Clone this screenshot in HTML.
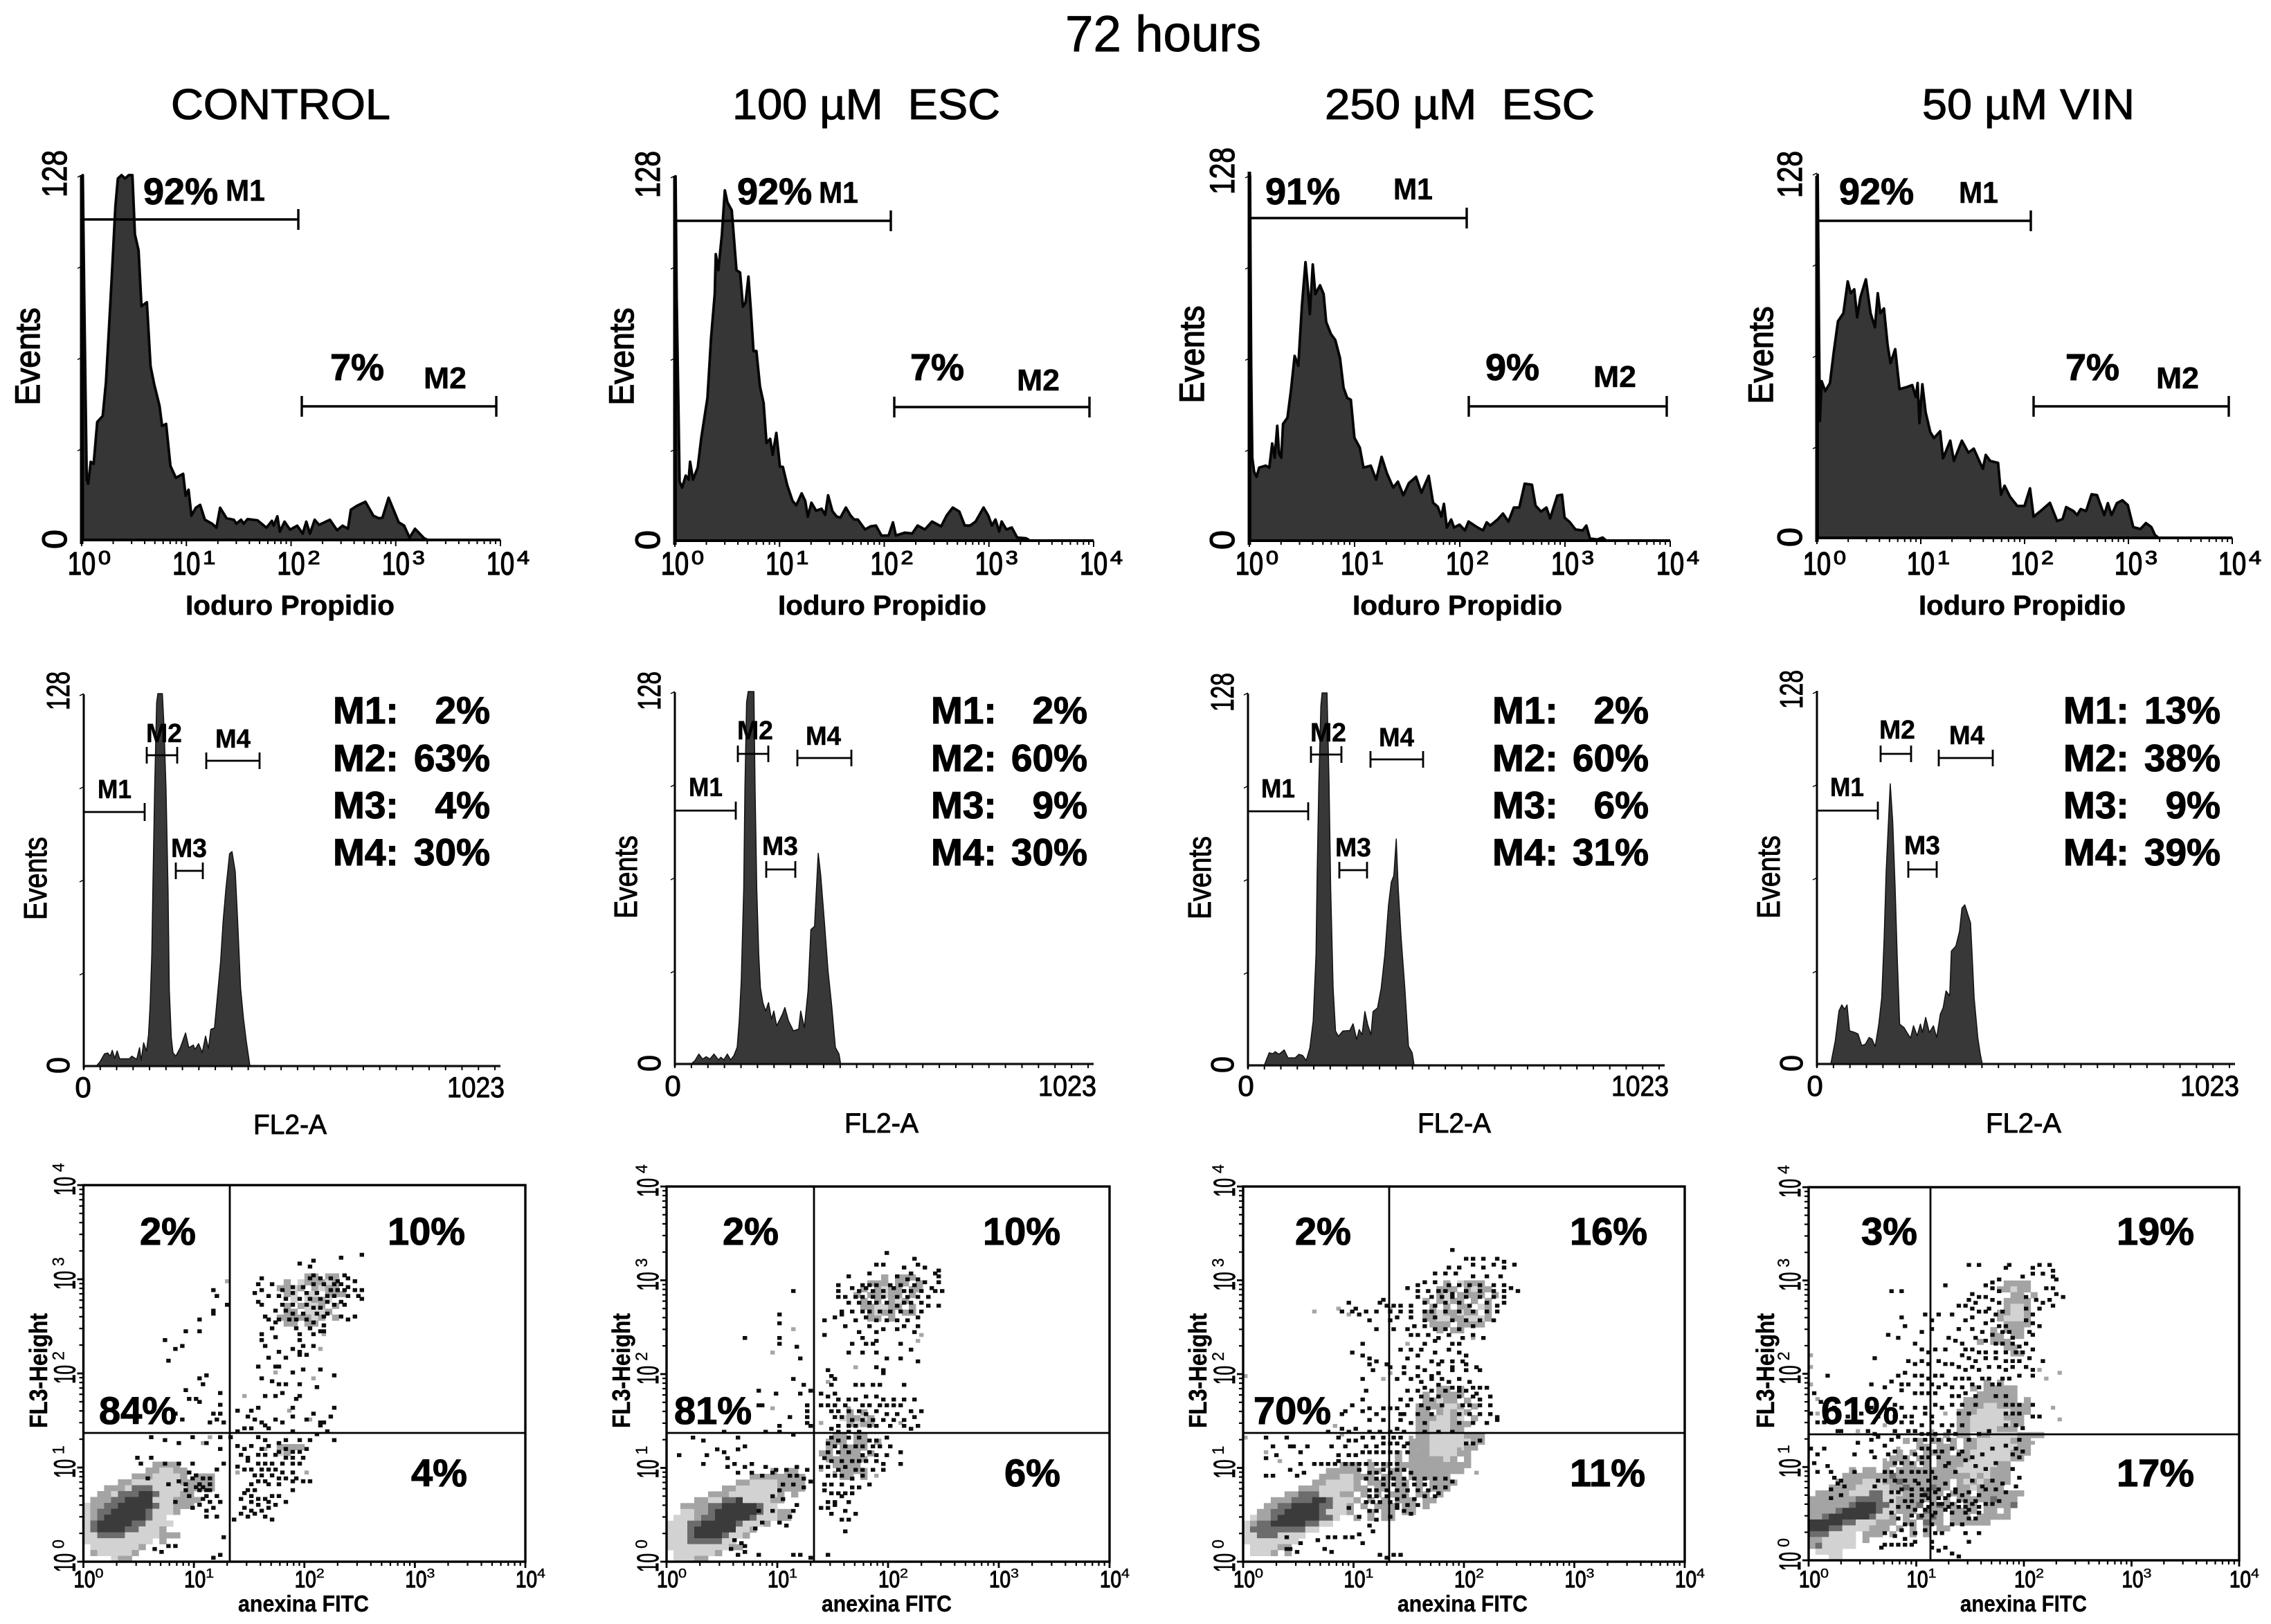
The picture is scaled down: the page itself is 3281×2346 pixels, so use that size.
<!DOCTYPE html>
<html lang="en">
<head>
<meta charset="utf-8">
<title>72 hours flow cytometry panels</title>
<style>
html,body{margin:0;padding:0;background:#fff}
svg{display:block;position:absolute;left:0;top:0}
text{font-family:"Liberation Sans",sans-serif;fill:#000}
.title{font-size:73px;stroke:#000;stroke-width:.9px}
.col{font-size:62px;stroke:#000;stroke-width:1.1px}
.pct{font-size:54px;font-weight:700;stroke:#000;stroke-width:1px}
.mk1{font-size:44px;font-weight:700;stroke:#000;stroke-width:.5px}
.mk2{font-size:38px;font-weight:700;stroke:#000;stroke-width:.5px}
.ev1{font-size:50px;stroke:#000;stroke-width:1.5px}
.ev2{font-size:46px;stroke:#000;stroke-width:1.1px}
.xl1{font-size:40px;font-weight:700;stroke:#000;stroke-width:.6px}
.xl2{font-size:40px;stroke:#000;stroke-width:.9px}
.stat{font-size:55px;font-weight:700;stroke:#000;stroke-width:1.1px}
.qp{font-size:56px;font-weight:700;stroke:#000;stroke-width:1.1px}
.al3{font-size:36px;font-weight:700;stroke:#000;stroke-width:.5px}
.xl3{font-size:33px;font-weight:700;stroke:#000;stroke-width:.4px}
.gate{fill:none;stroke:#000;stroke-width:3.4}
.gate2{fill:none;stroke:#000;stroke-width:2.8}
</style>
</head>
<body>
<svg id="fig" width="3281" height="2346" viewBox="0 0 3281 2346" xmlns="http://www.w3.org/2000/svg">
<rect width="3281" height="2346" fill="#fff"/>
<text class="title" x="1539" y="74" textLength="283" lengthAdjust="spacingAndGlyphs">72 hours</text>
<text class="col" x="247" y="172" textLength="317" lengthAdjust="spacingAndGlyphs">CONTROL</text>
<text class="col" x="1058" y="172" textLength="387" lengthAdjust="spacingAndGlyphs" xml:space="preserve">100 µM  ESC</text>
<text class="col" x="1914" y="172" textLength="390" lengthAdjust="spacingAndGlyphs" xml:space="preserve">250 µM  ESC</text>
<text class="col" x="2777" y="172" textLength="307" lengthAdjust="spacingAndGlyphs">50 µM VIN</text>

<g id="marks"></g>

<!-- row 1 gates and annotations -->
<g>
<path class="gate" d="M118 317H431M431 302V332"/>
<path class="gate" d="M436 587H717M436 572V602M717 572V602"/>
<text class="pct" x="207" y="295">92%</text>
<text class="mk1" x="326" y="290" textLength="57" lengthAdjust="spacingAndGlyphs">M1</text>
<text class="pct" x="477" y="549">7%</text>
<text class="mk1" x="612" y="561" textLength="62" lengthAdjust="spacingAndGlyphs">M2</text>
<text class="ev1" transform="translate(57,515) rotate(-90)" text-anchor="middle" textLength="141" lengthAdjust="spacingAndGlyphs">Events</text>
<text class="xl1" x="268" y="888" textLength="302" lengthAdjust="spacingAndGlyphs">Ioduro Propidio</text>

<path class="gate" d="M975 319H1287M1287 304V334"/>
<path class="gate" d="M1292 588H1574M1292 573V603M1574 573V603"/>
<text class="pct" x="1065" y="295">92%</text>
<text class="mk1" x="1183" y="293" textLength="57" lengthAdjust="spacingAndGlyphs">M1</text>
<text class="pct" x="1315" y="549">7%</text>
<text class="mk1" x="1469" y="564" textLength="62" lengthAdjust="spacingAndGlyphs">M2</text>
<text class="ev1" transform="translate(915,515) rotate(-90)" text-anchor="middle" textLength="141" lengthAdjust="spacingAndGlyphs">Events</text>
<text class="xl1" x="1124" y="888" textLength="301" lengthAdjust="spacingAndGlyphs">Ioduro Propidio</text>

<path class="gate" d="M1805 315H2119M2119 300V330"/>
<path class="gate" d="M2122 587H2408M2122 572V602M2408 572V602"/>
<text class="pct" x="1828" y="295">91%</text>
<text class="mk1" x="2013" y="288" textLength="57" lengthAdjust="spacingAndGlyphs">M1</text>
<text class="pct" x="2146" y="549">9%</text>
<text class="mk1" x="2302" y="559" textLength="62" lengthAdjust="spacingAndGlyphs">M2</text>
<text class="ev1" transform="translate(1739,512) rotate(-90)" text-anchor="middle" textLength="141" lengthAdjust="spacingAndGlyphs">Events</text>
<text class="xl1" x="1954" y="888" textLength="303" lengthAdjust="spacingAndGlyphs">Ioduro Propidio</text>

<path class="gate" d="M2625 319H2934M2934 304V334"/>
<path class="gate" d="M2938 587H3220M2938 572V602M3220 572V602"/>
<text class="pct" x="2657" y="295">92%</text>
<text class="mk1" x="2830" y="293" textLength="57" lengthAdjust="spacingAndGlyphs">M1</text>
<text class="pct" x="2984" y="549">7%</text>
<text class="mk1" x="3115" y="561" textLength="62" lengthAdjust="spacingAndGlyphs">M2</text>
<text class="ev1" transform="translate(2561,513) rotate(-90)" text-anchor="middle" textLength="141" lengthAdjust="spacingAndGlyphs">Events</text>
<text class="xl1" x="2772" y="888" textLength="299" lengthAdjust="spacingAndGlyphs">Ioduro Propidio</text>
</g>

<!-- row 2 gates and annotations -->
<g>
<path class="gate2" d="M121 1173H209M209 1160V1186"/>
<path class="gate2" d="M212 1091H256M212 1079V1103M256 1079V1103"/>
<path class="gate2" d="M254 1258H293M254 1246V1270M293 1246V1270"/>
<path class="gate2" d="M298 1099H375M298 1087V1111M375 1087V1111"/>
<text class="mk2" x="141" y="1153" textLength="49" lengthAdjust="spacingAndGlyphs">M1</text>
<text class="mk2" x="211" y="1072" textLength="52" lengthAdjust="spacingAndGlyphs">M2</text>
<text class="mk2" x="247" y="1238" textLength="52" lengthAdjust="spacingAndGlyphs">M3</text>
<text class="mk2" x="311" y="1080" textLength="51" lengthAdjust="spacingAndGlyphs">M4</text>
<text class="stat" x="481" y="1045">M1:</text><text class="stat" x="708" y="1045" text-anchor="end">2%</text>
<text class="stat" x="481" y="1114">M2:</text><text class="stat" x="708" y="1114" text-anchor="end">63%</text>
<text class="stat" x="481" y="1182">M3:</text><text class="stat" x="708" y="1182" text-anchor="end">4%</text>
<text class="stat" x="481" y="1250">M4:</text><text class="stat" x="708" y="1250" text-anchor="end">30%</text>
<text class="ev2" transform="translate(67,1269) rotate(-90)" text-anchor="middle" textLength="120" lengthAdjust="spacingAndGlyphs">Events</text>
<text class="xl2" x="366" y="1638" textLength="106" lengthAdjust="spacingAndGlyphs">FL2-A</text>

<path class="gate2" d="M975 1171H1063M1063 1158V1184"/>
<path class="gate2" d="M1066 1089H1110M1066 1077V1101M1110 1077V1101"/>
<path class="gate2" d="M1107 1256H1149M1107 1244V1268M1149 1244V1268"/>
<path class="gate2" d="M1152 1095H1230M1152 1083V1107M1230 1083V1107"/>
<text class="mk2" x="995" y="1150" textLength="49" lengthAdjust="spacingAndGlyphs">M1</text>
<text class="mk2" x="1065" y="1068" textLength="52" lengthAdjust="spacingAndGlyphs">M2</text>
<text class="mk2" x="1101" y="1235" textLength="52" lengthAdjust="spacingAndGlyphs">M3</text>
<text class="mk2" x="1164" y="1076" textLength="51" lengthAdjust="spacingAndGlyphs">M4</text>
<text class="stat" x="1345" y="1045">M1:</text><text class="stat" x="1571" y="1045" text-anchor="end">2%</text>
<text class="stat" x="1345" y="1114">M2:</text><text class="stat" x="1571" y="1114" text-anchor="end">60%</text>
<text class="stat" x="1345" y="1182">M3:</text><text class="stat" x="1571" y="1182" text-anchor="end">9%</text>
<text class="stat" x="1345" y="1250">M4:</text><text class="stat" x="1571" y="1250" text-anchor="end">30%</text>
<text class="ev2" transform="translate(920,1267) rotate(-90)" text-anchor="middle" textLength="120" lengthAdjust="spacingAndGlyphs">Events</text>
<text class="xl2" x="1220" y="1636" textLength="107" lengthAdjust="spacingAndGlyphs">FL2-A</text>

<path class="gate2" d="M1803 1172H1890M1890 1159V1185"/>
<path class="gate2" d="M1894 1090H1938M1894 1078V1102M1938 1078V1102"/>
<path class="gate2" d="M1935 1257H1975M1935 1245V1269M1975 1245V1269"/>
<path class="gate2" d="M1980 1097H2056M1980 1085V1109M2056 1085V1109"/>
<text class="mk2" x="1822" y="1152" textLength="49" lengthAdjust="spacingAndGlyphs">M1</text>
<text class="mk2" x="1893" y="1071" textLength="52" lengthAdjust="spacingAndGlyphs">M2</text>
<text class="mk2" x="1929" y="1237" textLength="52" lengthAdjust="spacingAndGlyphs">M3</text>
<text class="mk2" x="1992" y="1078" textLength="51" lengthAdjust="spacingAndGlyphs">M4</text>
<text class="stat" x="2156" y="1045">M1:</text><text class="stat" x="2382" y="1045" text-anchor="end">2%</text>
<text class="stat" x="2156" y="1114">M2:</text><text class="stat" x="2382" y="1114" text-anchor="end">60%</text>
<text class="stat" x="2156" y="1182">M3:</text><text class="stat" x="2382" y="1182" text-anchor="end">6%</text>
<text class="stat" x="2156" y="1250">M4:</text><text class="stat" x="2382" y="1250" text-anchor="end">31%</text>
<text class="ev2" transform="translate(1749,1268) rotate(-90)" text-anchor="middle" textLength="120" lengthAdjust="spacingAndGlyphs">Events</text>
<text class="xl2" x="2048" y="1636" textLength="106" lengthAdjust="spacingAndGlyphs">FL2-A</text>

<path class="gate2" d="M2625 1171H2713M2713 1158V1184"/>
<path class="gate2" d="M2717 1089H2761M2717 1077V1101M2761 1077V1101"/>
<path class="gate2" d="M2757 1256H2798M2757 1244V1268M2798 1244V1268"/>
<path class="gate2" d="M2801 1095H2879M2801 1083V1107M2879 1083V1107"/>
<text class="mk2" x="2644" y="1150" textLength="49" lengthAdjust="spacingAndGlyphs">M1</text>
<text class="mk2" x="2715" y="1067" textLength="52" lengthAdjust="spacingAndGlyphs">M2</text>
<text class="mk2" x="2751" y="1234" textLength="52" lengthAdjust="spacingAndGlyphs">M3</text>
<text class="mk2" x="2816" y="1075" textLength="51" lengthAdjust="spacingAndGlyphs">M4</text>
<text class="stat" x="2981" y="1045">M1:</text><text class="stat" x="3208" y="1045" text-anchor="end">13%</text>
<text class="stat" x="2981" y="1114">M2:</text><text class="stat" x="3208" y="1114" text-anchor="end">38%</text>
<text class="stat" x="2981" y="1182">M3:</text><text class="stat" x="3208" y="1182" text-anchor="end">9%</text>
<text class="stat" x="2981" y="1250">M4:</text><text class="stat" x="3208" y="1250" text-anchor="end">39%</text>
<text class="ev2" transform="translate(2571,1267) rotate(-90)" text-anchor="middle" textLength="120" lengthAdjust="spacingAndGlyphs">Events</text>
<text class="xl2" x="2869" y="1636" textLength="109" lengthAdjust="spacingAndGlyphs">FL2-A</text>
</g>

<!-- row 3 quadrant gates and annotations -->
<g>
<path class="gate2" d="M332 1712V2256M120.5 2070H759"/>
<text class="qp" x="202" y="1798">2%</text>
<text class="qp" x="560" y="1798">10%</text>
<text class="qp" x="143" y="2057">84%</text>
<text class="qp" x="594" y="2147">4%</text>
<text class="al3" transform="translate(68,1980) rotate(-90)" text-anchor="middle" textLength="166" lengthAdjust="spacingAndGlyphs">FL3-Height</text>
<text class="xl3" x="344" y="2328" textLength="189" lengthAdjust="spacingAndGlyphs">anexina FITC</text>

<path class="gate2" d="M1176 1714V2256M963 2070H1603"/>
<text class="qp" x="1044" y="1798">2%</text>
<text class="qp" x="1420" y="1798">10%</text>
<text class="qp" x="974" y="2057">81%</text>
<text class="qp" x="1451" y="2147">6%</text>
<text class="al3" transform="translate(910,1980) rotate(-90)" text-anchor="middle" textLength="166" lengthAdjust="spacingAndGlyphs">FL3-Height</text>
<text class="xl3" x="1187" y="2328" textLength="188" lengthAdjust="spacingAndGlyphs">anexina FITC</text>

<path class="gate2" d="M2007 1714V2256M1796 2070H2434"/>
<text class="qp" x="1871" y="1798">2%</text>
<text class="qp" x="2268" y="1798">16%</text>
<text class="qp" x="1811" y="2057">70%</text>
<text class="qp" x="2268" y="2147">11%</text>
<text class="al3" transform="translate(1743,1980) rotate(-90)" text-anchor="middle" textLength="166" lengthAdjust="spacingAndGlyphs">FL3-Height</text>
<text class="xl3" x="2019" y="2328" textLength="188" lengthAdjust="spacingAndGlyphs">anexina FITC</text>

<path class="gate2" d="M2789 1715V2254M2613 2072H3235"/>
<text class="qp" x="2689" y="1798">3%</text>
<text class="qp" x="3058" y="1798">19%</text>
<text class="qp" x="2631" y="2057">61%</text>
<text class="qp" x="3058" y="2147">17%</text>
<text class="al3" transform="translate(2563,1980) rotate(-90)" text-anchor="middle" textLength="166" lengthAdjust="spacingAndGlyphs">FL3-Height</text>
<text class="xl3" x="2832" y="2328" textLength="183" lengthAdjust="spacingAndGlyphs">anexina FITC</text>
</g>
</svg>

<script>
// ---------- propidium iodide histograms: channel, events pairs (288 channels per decade, 0-128 events)
const piControl=[3,128,7,85,11,47,14,21.1,18,19.7,25,27.4,33,26.7,43,41.4,58,43.5,67,55.4,75,73.6,83,91.8,93,117,100,126.8,110,128,120,126.8,130,128,140,128,147,107.2,157,101.6,165,82,180,83.4,190,61,200,54.7,215,47,222,40,233,40.7,245,26,260,21.8,280,23.2,287,15.5,295,17.6,303,8.5,315,11.3,327,12.3,340,7.1,360,5.7,372,4.3,382,11.3,400,7.6,420,7.1,427,5.7,440,7.1,447,5.7,458,7.3,485,6.9,510,4.3,525,6.7,530,5,540,8.3,547,2.9,560,6.4,575,3.6,595,5,610,2.2,620,6.4,630,2.2,643,7.1,655,5.3,685,7.1,705,3.4,720,5,735,3.9,743,10.6,760,12,783,13.4,805,8.5,820,7.6,830,7.8,847,14.8,875,6.2,890,5,905,.8,920,3.9,945,.6,955,0];
const piEsc100=[2,127.8,5,85.1,10,45.9,13,20.7,20,18.6,30,22.8,38,21.4,42,27.7,50,21.4,63,25.6,73,36.1,90,50.1,100,71.1,110,86.5,113,100.5,120,94.9,130,107.5,138,122.9,145,118.7,157,115.9,170,94.9,180,94.1,188,82.1,195,83.5,203,92.6,210,80.5,217,66.5,225,66.5,235,54,245,48.3,253,34.3,263,35.7,270,30.1,280,37.8,290,26,298,25.9,310,19.5,325,13.9,335,12.4,350,16.6,360,13.9,367,8.4,377,13.3,390,10.5,405,11.2,415,9,423,15.9,435,10.3,447,8.4,457,8.1,472,11.6,485,8.8,495,7.4,505,7.4,525,3.9,540,5,555,5.3,570,1.8,590,1.8,602,6.4,610,1.8,635,2.8,655,2.5,670,5.3,690,3.9,710,6.7,735,5,750,8.8,767,11.6,785,10.2,800,5.3,815,5.3,830,6.7,852,11.6,865,8.8,875,5.3,885,7.4,895,3.2,902,6.7,915,3.9,930,4.6,945,1.1,970,.8,980,0];
const piEsc250=[2,128,3,97.5,5,61.1,8,29.1,13,24.2,20,22.4,27,25.6,45,26.3,55,25.6,63,34.1,70,29.1,77,40.3,82,30.5,88,29.1,93,41,105,43.1,115,52.9,125,64.8,135,61.3,145,82.3,155,97.7,161,89.3,167,79.5,175,96.9,182,86.5,195,89.6,205,86.5,212,76.7,225,72.5,237,70.4,250,64.1,260,53.6,270,50.1,280,49.4,290,36.1,305,32.6,315,25.6,335,26.3,350,21.4,365,29.4,380,23.5,397,18.6,410,20.7,425,15.9,440,20.1,460,22.4,475,16.8,495,22.7,507,13.3,520,11.9,530,8.4,537,12.9,545,4.6,557,7.4,565,4.6,580,5.6,595,3.6,605,6.7,630,4.6,645,3.6,655,6.4,665,5.3,685,7.4,700,9.5,715,6.7,730,11.6,745,11.6,760,20,780,19.6,790,12.3,805,10.2,820,11.6,830,7.8,850,15.8,863,16.1,870,8.1,885,6.4,900,3.9,920,3.6,930,5.3,940,.8,960,.4,975,1.1,985,0];
const piVin50=[2,127.4,4,98.3,6,69,8,41,13,55,23,51.5,36,54.3,46,64.8,58,76,73,78.8,85,90,93,85.8,103,87.2,111,77.4,120,84.4,135,90.7,148,78.8,160,73.9,168,85.8,175,78.8,185,80.5,195,67.6,203,61.3,216,66.2,228,52.2,248,52.9,263,53.6,273,49.4,278,54.3,283,40.3,291,53.9,300,44.1,313,37.1,323,35,340,37.4,348,27.9,368,34.1,378,27,400,34.1,418,29.9,433,31.3,448,27,458,24.2,466,29.1,478,27,500,26.3,508,15.1,518,18.3,533,14.4,553,11.2,573,11.2,588,17.4,598,7.4,618,9.5,643,12.3,663,5.9,678,6.6,688,10.8,708,9.4,718,8,728,10.1,743,9.4,758,15.3,773,15,793,8,803,12.2,813,8,828,12.2,843,13.2,858,11.5,873,3.8,893,3.1,908,5.2,923,3.8,933,1,943,0];

// ---------- DNA content histograms: channel (0-1023), events pairs
const dnaControl=[31,0,40,1.5,51,4.2,59,4.5,65,3.4,70,5.4,76,2.7,82,5.2,88,2.5,112,2.5,118,3.4,130,2.3,137,6.3,141,1.9,147,8,154,5.1,159,10.8,163,21,167,38.2,170,63,174,95,179,124.9,182,128,193,128,197,117,202,95,207,60.4,210,26.2,215,9.7,219,4.6,226,3.4,237,6.3,250,11.4,258,6.3,269,7.2,273,5.7,282,7.7,291,4.6,299,10.3,306,6,312,12.6,321,13.1,327,22.2,336,35.9,342,49.6,349,61,358,73,364,73.7,372,66.8,378,49.6,385,26.8,392,16.5,399,8.6,408,0];
const dnaEsc100=[40,0,49,1.1,59,3.4,68,1.7,77,2.5,86,1.7,96,3.4,107,1.4,113,2.3,120,1.4,129,3.4,137,1.4,145,2.9,153,5.7,158,14.8,163,28.5,169,60.4,172,94.6,176,124.3,180,128,194,128,197,94.6,201,60.4,206,37.6,210,26.2,216,21.1,223,18.2,230,21.1,237,15.4,243,18.2,250,13.1,264,17.1,270,19.4,279,14.8,291,11.4,304,12,309,18.2,318,12.5,327,25.1,334,46.2,343,47.3,352,72.4,358,65,367,49,376,32,385,20,394,5.7,403,3.4,407,0];
const dnaEsc250=[40,0,52,4.3,61,4,67,4.7,76,3.8,89,5.3,98,2.6,116,2.6,125,3.8,134,3.4,143,1.7,152,6,160,15.2,167,38,170,66.5,174,97.3,179,123.5,182,128,194,128,199,97.3,203,60.8,209,26.6,215,11.8,222,10,233,11.8,250,12,258,14.3,267,8.9,273,12.3,280,10.5,287,18.5,294,14,302,10.5,307,18.5,318,19.7,327,26.5,336,38,345,55,352,63,358,65.2,364,77.8,369,60.8,376,43.7,385,26.6,394,6.6,403,4.3,408,0];
const dnaVin50=[34,0,45,8,54,18.2,61,20.3,68,18.8,74,20.3,80,11.4,92,10.9,101,10.3,110,6.3,119,6.8,128,9.1,135,8.6,143,6,152,13.7,159,22.8,165,43.3,170,66.1,177,87.7,180,96.3,186,83.2,192,60.4,197,37.6,203,13.7,214,12.5,221,10.8,230,8.9,237,13.1,246,9.7,254,13.7,259,10.8,267,16,276,10.8,286,13.1,294,9.1,303,17.1,310,19.4,317,25.1,326,23.4,330,38.8,341,40.5,350,45.6,356,53.6,363,54.7,377,48.5,381,37.6,386,22.8,395,9.1,401,3.4,406,0];

// ---------- annexin / FL3 dot plots: density bins [row, first column, levels] on a 64 x 64 grid
const densityControl=[[48,32,"22.22"],[47,29,"2.122212"],[46,28,"2212.2122"],[45,29,"21.11.222"],[44,30,"1.1221"],[43,29,"2.2112.2"],[42,29,"22.1112"],[41,28,"2222212.2"],[40,29,"22.22"],[19,28,"2222"],[18,28,"12"],
[16,10,"2222"],[15,9,"221122"],[14,7,"22211112.222"],[13,5,"22111111122222"],[12,3,"2221333111112222"],[11,2,"22133344311122"],[10,1,"2223344441112222"],[9,0,"1223344444311222"],[8,0,"12334444431112"],[7,0,"123444444311"],[6,0,"1344444331111"],[5,0,"134444331112"],[4,0,"11333311111222"],[3,0,"1111111111.2"],[2,1,"11111112"],[1,1,"2111112"],[0,4,"122"]];
const densityEsc100=[[48,31,"2.222"],[47,29,"222.22.2"],[46,28,"2.2122.22"],[45,27,"2.22122.2"],[44,28,"2.2.212"],[43,28,"221122.2"],[42,29,"2122.22"],[41,29,"22.2"],[25,26,"2.2"],[24,25,"12212"],[23,26,"2122"],[21,24,"22.22"],[20,23,"222.22.2"],[19,23,"2.2222"],[18,22,"22.222.2"],[17,23,"222222"],[16,24,"2222"],[15,25,"2222"],[14,25,"22.2"],
[15,15,"2.22"],[14,12,"22222222"],[13,10,"2211112222"],[12,8,"221111112222"],[11,6,"22211111112.2"],[10,4,"2211334111122"],[9,2,"22223344444311"],[8,2,"1122344444431122"],[7,1,"11123344444311122"],[6,0,"111334444431112"],[5,0,"1113444444112"],[4,0,"111344443112"],[3,0,"1113333311"],[2,0,"11111111122"],[1,1,"1111112"],[0,1,"11122"]];
const densityEsc250=[[47,29,"2.1222"],[46,28,"222.2122"],[45,28,"21.2222.2"],[44,26,"2.2122.2.2"],[43,27,"2.2.22.12"],[42,26,"22122122.2"],[41,26,"2211221112"],[40,27,"222.2222"],[39,28,"2.22"],
[29,28,"22.2"],[28,26,"2.2222"],[27,26,"22122.2"],[26,25,"2222112.2"],[25,25,"22.21212"],[24,25,"2221121.2"],[23,25,"22111222"],[22,25,"2211122"],[21,25,"2211111222"],[20,24,"22211111122"],[19,24,"2221111122"],[18,22,"2.222111122"],[17,22,"2.2222212.2"],[16,14,"222.2.2.22222222222"],[15,12,"22222.22.22.22222222"],[14,11,"22211222.222.222222"],[13,10,"2211112.222.22.2.2222"],[12,8,"2221111122.22.22.2.222"],[11,6,"2233311122.2.2.222.22.2"],[10,4,"2223334431112.2.2.222.22"],[9,3,"2233444433112.2.222.22.2"],[8,2,"22334444431112..2.22.22"],[7,1,"1223444444331..2.2.22"],[6,0,"1233444443311"],[5,0,"13333333311"],[4,0,"113331111"],[3,0,"11111111"],[2,1,"111122"],[1,1,"1112.2"]];
const densityVin50=[[47,29,"2222"],[46,28,"22122"],[45,30,"22.2"],[44,29,"2222"],[43,29,"2112"],[42,28,"22112"],[41,28,"21112"],[40,29,"2222"],[39,27,"2.222"],[38,27,"22.22"],[37,25,"2.222"],[36,29,"22"],[35,30,"22"],
[30,26,"2.2"],[29,24,"2.22222"],[28,25,"222222"],[27,23,"22222222.2"],[26,23,"2221122222"],[25,22,"22211111222"],[24,22,"2211111222"],[23,22,"2211111122"],[22,22,"221111222"],
[21,18,"2.2.22.2211112222"],[20,14,"2.2.22.2.2211111222"],[19,16,"22.222.2211111122"],[18,13,"2.2.2222.22111111222"],[17,12,"222.22.2222211111122"],[16,11,"22.22.2.22221111122"],[15,6,"2.22.2.22222222211111222"],[14,5,"2222222322222222222121222"],[13,4,"22221112232222222.21212222"],[12,3,"222211111223222322.2212222"],[11,1,"2222211133111222322.222.2222222"],[10,0,"2222222333311222222.2.222223222"],[9,0,"22222234443312223.2322.22.22223"],[8,0,"2222344444311222.322.2222.22.2"],[7,0,"2234444443112.2.3232.222.22222"],[6,0,"4444433111222.22.322.222222"],[5,0,"444331111222.2.2.2.22"],[4,0,"3331111.222.2..2.2"],[3,0,"2211111.2"],[2,0,"2311111"],[1,1,"1111"],[0,3,"11"]];

// ---------- single events, channel pairs x,y (32 channels per decade)
const eventsControl=[80,104,74,103,66,102,62,101,65,100,66,97,65,96,68,96,71,96,75,97,73,95,76,96,78,95,66,94,69,94,72,94,74,94,76,93,71,92,73,92,75,92,78,92,80,92,63,93,60,93,51,96,50,94,54,94,57,92,51,92,49,91,60,91,64,91,67,91,70,90,72,90,76,90,79,90,53,90,56,90,58,89,62,89,65,89,68,89,70,88,74,88,80,89,50,88,51,87,57,87,60,87,64,87,66,86,68,86,72,87,75,87,55,85,58,85,60,84,63,84,67,84,70,84,74,83,52,83,53,82,56,82,59,82,61,82,64,82,69,83,76,82,78,83,66,81,69,80,61,79,65,79,68,78,69,78,55,81,54,79,62,77,66,77,51,77,51,75,55,76,62,75,52,73,63,73,66,73,60,72,62,71,62,70,64,70,56,71,53,69,58,69,50,66,55,66,56,66,60,64,63,65,
51,62,54,61,56,60,58,60,62,60,68,65,62,56,67,59,72,63,52,56,55,56,57,57,61,55,60,52,60,49,66,50,50,52,48,51,47,49,44,51,49,48,51,47,55,48,57,47,64,48,71,49,72,52,69,47,70,44,68,47,48,45,52,46,53,45,46,45,44,44,42,42,50,42,52,41,56,40,58,41,65,41,67,43,68,46,72,41,62,41,60,44,
44,39,46,38,48,39,51,38,53,39,56,37,58,38,60,37,62,37,64,38,45,36,47,35,50,36,52,36,55,36,58,35,60,35,63,35,47,34,50,33,52,33,54,33,57,33,60,33,62,33,44,32,46,31,48,31,51,31,53,31,55,31,57,30,60,30,49,29,51,29,54,29,56,28,58,28,61,28,50,27,52,27,53,26,56,26,60,27,63,27,65,27,48,26,47,24,49,24,46,23,48,22,50,21,52,21,54,22,56,22,48,20,50,19,53,20,55,19,46,18,48,17,51,17,53,18,45,16,47,15,49,16,52,15,54,14,43,14,45,21,58,20,60,24,
37,92,38,90,41,87,37,84,33,82,29,78,26,72,33,78,23,75,24,68,28,73,37,85,29,58,33,62,35,63,34,60,32,55,33,54,30,55,39,57,39,53,39,50,38,48,37,50,26,50,28,48,40,47,36,47,31,42,
19,42,23,41,27,40,35,40,39,42,39,38,15,35,19,35,16,33,23,33,27,33,31,33,38,31,40,33,36,28,34,28,31,28,27,27,24,26,18,28,33,24,36,24,38,22,39,20,34,21,30,22,26,20,35,17,38,15,35,15,40,8,39,2,37,1,24,5,26,5,22,3,20,4,30,30,32,29,29,26,32,25,34,25,35,22,36,20,37,18,33,19,31,18,35,24,36,26,33,26,29,24];
const eventsEsc100=[63,105,60,101,62,101,71,103,72,101,68,100,74,100,78,99,77,98,52,97,58,98,70,98,66,97,69,96,72,96,56,94,49,94,49,92,49,90,53,93,58,94,60,94,64,94,67,94,71,94,74,95,78,97,78,95,55,92,57,93,59,92,62,92,65,93,68,92,70,92,73,92,76,93,77,92,79,92,51,90,54,90,56,90,59,90,62,90,66,90,69,90,72,90,75,90,52,88,55,88,58,88,60,88,63,88,66,87,68,88,70,88,73,88,75,87,78,87,50,85,53,85,56,85,58,85,61,85,64,85,67,85,70,85,73,85,48,83,50,84,54,82,57,83,60,82,63,82,66,82,69,82,72,83,45,82,51,80,58,80,62,79,66,79,68,80,71,78,72,80,55,78,56,76,60,78,60,75,45,77,53,74,57,74,59,74,67,74,70,72,52,71,56,71,60,71,
63,69,67,69,72,68,60,66,62,65,46,65,47,63,48,62,62,64,47,60,54,60,56,60,59,60,61,60,68,60,48,57,49,55,44,57,46,56,52,55,54,55,57,56,60,56,62,55,65,55,68,55,71,55,44,53,46,53,48,53,51,53,56,53,58,53,61,53,63,53,65,53,67,53,47,51,49,51,52,51,55,51,57,50,60,51,63,50,66,50,70,51,73,51,48,49,50,49,53,48,56,48,59,48,62,48,65,48,68,48,71,49,49,46,52,46,54,46,58,46,60,46,64,46,68,46,70,45,72,46,47,45,49,44,52,44,55,44,
47,42,49,41,52,42,55,42,58,41,60,41,63,42,46,40,48,39,51,39,54,39,56,39,59,39,61,39,64,39,46,37,49,37,52,37,56,36,58,37,60,36,63,36,67,37,45,35,47,34,50,34,53,34,55,34,57,34,60,34,62,33,67,33,44,32,46,32,49,31,51,32,54,31,56,31,59,31,62,31,46,29,48,29,50,29,53,28,56,29,45,26,47,26,50,26,53,25,55,25,58,26,45,24,47,23,49,23,51,23,53,23,46,20,48,20,50,22,52,20,44,18,46,18,48,19,51,17,54,16,47,16,50,14,52,14,51,10,
36,92,32,84,32,81,32,76,32,74,37,73,38,69,22,76,36,62,39,60,41,58,26,58,31,57,38,57,26,53,27,53,40,53,40,51,40,49,40,47,35,49,32,46,41,46,32,44,7,42,10,41,16,44,20,42,28,44,36,43,22,39,11,36,14,38,16,37,20,38,17,35,10,33,3,36,
17,32,19,33,22,32,24,33,28,32,31,31,34,31,37,32,40,31,35,29,37,29,39,28,41,27,20,30,24,30,27,29,30,30,33,26,36,26,39,25,32,24,30,22,33,21,37,19,36,17,35,15,32,13,34,12,27,13,25,11,26,17,30,17,21,6,18,4,20,2,22,3,26,2,22,5,19,7,36,2,38,2,41,1,46,2];
const eventsEsc250=[60,106,64,103,66,103,69,103,73,103,75,102,59,100,62,100,66,101,69,100,72,101,75,100,78,101,55,98,58,98,61,98,66,97,70,97,74,97,47,93,50,94,52,95,55,95,59,94,62,94,65,94,68,94,72,94,75,94,77,93,50,92,53,92,56,92,58,92,60,91,64,92,68,92,72,92,75,92,79,92,50,90,54,90,57,90,60,90,64,90,68,90,72,90,75,90,40,89,52,88,55,87,58,88,62,88,65,87,70,88,73,87,75,88,39,88,41,87,43,87,45,87,48,87,30,88,32,86,28,85,31,85,35,85,38,85,42,85,45,85,48,85,52,85,54,85,58,85,62,85,66,85,70,85,73,85,33,84,36,82,42,82,44,83,48,83,52,82,55,83,60,82,64,82,68,82,72,82,47,79,49,80,52,80,55,79,58,79,62,79,66,80,38,79,43,79,48,77,50,77,53,77,56,76,59,77,63,76,66,77,69,76,34,74,52,74,55,75,60,74,62,74,31,71,34,70,36,69,45,72,48,72,51,72,55,71,59,72,62,71,64,70,47,69,50,70,54,68,57,68,60,68,63,68,38,68,36,67,37,65,41,67,42,66,46,66,50,66,56,67,60,66,64,67,67,66,52,65,56,64,60,65,64,65,68,65,46,64,50,63,54,63,
34,62,44,62,48,62,51,61,54,62,57,62,59,61,62,62,65,61,52,59,56,60,60,59,62,59,66,59,68,59,70,59,35,58,47,58,50,58,54,58,58,58,62,58,64,58,67,57,34,55,45,55,48,55,51,56,54,55,56,56,62,56,66,56,68,55,71,56,47,53,51,53,53,52,57,53,63,53,65,53,68,53,71,53,31,53,34,51,36,52,40,52,42,52,44,52,28,50,29,51,38,50,45,50,46,50,50,50,54,50,62,50,65,50,68,50,71,50,73,49,36,48,40,48,45,48,48,47,52,47,62,47,66,47,70,47,73,48,28,45,24,44,30,44,32,45,36,44,39,44,42,44,44,45,46,44,52,44,56,44,60,44,
27,42,30,41,32,41,34,42,37,42,40,42,43,42,45,42,47,40,25,39,29,39,35,39,38,39,40,40,42,40,44,40,46,39,64,40,66,40,68,41,6,42,12,42,8,39,13,39,14,39,18,39,34,37,36,37,38,37,40,37,42,37,44,37,47,37,27,36,30,36,32,36,6,35,9,36,16,37,26,33,27,34,29,33,31,33,33,33,35,33,38,33,40,33,42,33,44,33,20,33,22,33,24,33,13,31,16,33,33,31,36,30,38,30,40,31,42,30,44,31,46,31,48,30,6,29,8,29,15,29,17,30,35,28,38,28,40,28,43,28,46,28,49,28,52,28,55,28,58,28,60,27,40,26,43,26,46,26,49,26,52,26,55,25,58,25,36,24,38,24,41,24,44,24,47,24,50,24,53,24,56,23,36,22,38,22,41,22,44,21,46,22,49,21,52,22,55,22,35,20,37,20,39,20,42,20,44,19,47,19,50,19,36,17,38,17,44,18,46,17,48,16,30,18,33,15,38,14,42,15,36,12,37,10,33,9,24,8,26,8,29,8,31,8,34,6,21,7,23,4,25,3,39,2,41,1,43,2,45,2,13,4,15,3,12,4,16,6,12,8];
const eventsVin50=[47,101,50,101,58,100,59,101,68,101,66,100,71,101,72,99,63,97,66,98,69,98,72,97,73,96,54,95,56,96,52,94,54,93,56,92,40,94,24,92,27,92,70,93,72,93,73,91,75,90,48,91,50,90,47,89,49,88,52,90,54,89,56,88,64,90,67,89,69,88,71,89,46,87,48,86,50,85,52,85,53,86,55,84,57,85,64,86,66,84,68,86,72,87,44,87,42,84,38,84,34,84,36,82,27,83,28,80,36,79,33,78,26,76,23,77,46,82,48,83,52,81,54,82,56,80,58,80,64,82,66,81,68,80,48,79,51,78,54,77,57,78,59,78,60,76,65,78,66,77,44,79,41,76,43,75,45,74,49,76,52,75,55,74,57,74,60,74,62,73,64,74,37,72,40,72,31,74,33,72,35,71,46,72,48,72,50,71,52,71,55,71,58,71,61,71,63,71,66,72,45,70,47,69,49,68,52,69,55,69,58,68,60,68,62,68,65,69,69,68,19,69,29,68,31,67,33,68,35,67,38,68,40,67,42,67,44,66,46,65,48,66,50,65,53,66,56,66,58,65,60,66,64,66,66,65,5,63,26,63,28,64,31,63,33,63,35,62,37,63,39,63,43,62,45,62,47,62,51,62,53,62,57,62,59,62,62,63,66,63,18,60,22,59,24,61,27,60,29,60,33,60,36,60,38,59,40,60,42,59,45,59,48,60,50,59,54,60,56,60,27,58,31,57,33,57,35,57,37,57,42,56,44,56,46,57,49,56,55,56,58,56,1,57,3,54,7,52,18,52,22,52,25,53,27,52,31,52,34,52,37,53,39,52,42,53,45,53,49,53,58,53,60,53,62,53,66,53,0,50,2,47,11,49,15,50,20,49,25,49,28,49,30,49,34,50,36,49,44,50,47,50,58,50,60,50,62,50,66,49,68,49,4,47,8,44,27,47,30,47,33,46,36,47,39,46,42,46,45,46,58,46,61,46,63,45,9,44,17,44,19,43,25,44,29,44,31,44,33,43,35,43,37,43,41,44,43,43,20,42,18,41,24,41,26,42,31,41,34,41,36,41,38,41,41,41,62,41,0,38,4,38,14,40,18,37,22,39,33,38,35,38,37,37,39,37,61,38,2,36,13,36,19,35,23,36,25,37,28,35,31,36,33,35,35,35,60,36,62,35,1,33,5,32,25,33,27,33,30,33,33,33,2,30,6,30,13,30,22,30,24,30,27,30,30,30,32,30,34,30,36,30,7,28,9,27,20,27,22,27,25,27,28,27,31,27,35,27,30,24,33,24,35,24,38,24,6,24,8,26,10,25,19,25,24,23,27,24,30,22,33,22,35,21,38,21,41,22,45,22,47,23,50,22,55,24,58,23,9,22,6,21,30,20,33,20,36,19,39,19,42,19,44,18,46,18,48,19,52,19,54,19,29,18,31,17,34,17,37,16,40,17,42,16,46,16,50,16,30,15,33,15,36,15,24,16,26,14,28,12,30,12,36,12,42,12,45,12,47,14,49,14,27,10,31,9,34,10,37,9,39,9,46,9,50,9,22,9,25,8,28,7,31,6,36,6,21,4,22,5,24,5,26,5,28,5,30,5,36,4,38,3,40,4,42,2,44,1,47,6,
32,26,37,28,40,26,43,24,48,27,51,25,54,27,57,26,34,22,37,23,40,21,43,23,46,20,49,20,52,24,56,20,35,18,38,19,41,18,44,20,47,17,50,18,40,32,43,30,46,34,49,32,52,31,55,33,45,37,48,35,51,36,54,38,47,41,50,43,53,44,42,38,44,36,58,39,60,31,62,28,61,25,63,37,38,35,41,33,24,20,26,18,28,20,26,23];
// pale grey single events, channel pairs x,y
const paleControl=[41,95,69,77,68,72,55,64,59,51,72,41,65,48,46,56,52,38,64,30,34,40,36,42,44,30,62,56,66,62];
const paleEsc100=[36,79,30,71,30,52,54,66,72,75,73,77,46,61,52,52,67,47,44,31,63,42,60,29,44,47,48,30];
const paleEsc250=[27,86,30,84,20,85,42,86,47,74,66,76,40,62,28,43,26,46,42,64,50,38,62,38,36,34,48,42,67,30,0,63,0,42,6,37,10,34];
const paleVin50=[0,70,0,66,0,60,2,55,2,50,14,44,22,46,52,69,68,65,66,40,72,52,74,48,74,64,70,62,60,57,40,50,36,44,32,40,38,30,26,38,22,34];

// ---------- tick labels
const decadeLabels=["0","1","2","3","4"];
const countLabels=["0","128"];
const dnaLabels=["0","1023"];

// ---------- layout of each plot frame
const piFrames=[{id:"control",x0:118,x1:723,top:253,base:780,data:piControl,mid:251},{id:"esc-100",x0:975,x1:1580,top:254,base:781,data:piEsc100,mid:252},{id:"esc-250",x0:1805,x1:2413,top:248,base:781,data:piEsc250,mid:247},{id:"vin-50",x0:2625,x1:3225,top:254,base:777,data:piVin50,mid:252}];
const dnaFrames=[{id:"control",x0:121,x1:723,top:1003,base:1540,data:dnaControl,mid:998,label:120,right:100,maxL:646,maxW:83,by:1585},{id:"esc-100",x0:975,x1:1580,top:1000,base:1537,data:dnaEsc100,mid:998,label:972,right:954,maxL:1500,maxW:84,by:1583},{id:"esc-250",x0:1803,x1:2405,top:1002,base:1539,data:dnaEsc250,mid:1000,label:1800,right:1782,maxL:2328,maxW:83,by:1583},{id:"vin-50",x0:2625,x1:3229,top:998,base:1537,data:dnaVin50,mid:996,label:2622,right:2604,maxL:3150,maxW:85,by:1583}];
const dotFrames=[{id:"control",x0:120.5,x1:759,top:1712,base:2256,density:densityControl,dark:eventsControl,pale:paleControl},{id:"esc-100",x0:963,x1:1603,top:1714,base:2256,density:densityEsc100,dark:eventsEsc100,pale:paleEsc100},{id:"esc-250",x0:1796,x1:2434,top:1714,base:2256,density:densityEsc250,dark:eventsEsc250,pale:paleEsc250},{id:"vin-50",x0:2613,x1:3235,top:1715,base:2254,density:densityVin50,dark:eventsVin50,pale:paleVin50}];
const levelFill={1:"#d2d2d2",2:"#a4a4a4",3:"#6c6c6c",4:"#3b3b3b"};

const NS="http://www.w3.org/2000/svg";
const root=document.getElementById("marks");
function mk(parent,tag,attrs,text){
  const el=document.createElementNS(NS,tag);
  for(const k in attrs)el.setAttribute(k,attrs[k]);
  if(text!==undefined)el.textContent=text;
  parent.appendChild(el);
  return el;
}
// axis functions
const PI_CHANNEL_SPAN=1152,PI_PX=603,EVENT_MAX=128,PI_EVENT_PX=527,DNA_MAX=1023,DNA_PX=602,DNA_EVENT_PX=538,DOT_CHANNELS=128;
function piX(f,c){return f.x0+c/PI_CHANNEL_SPAN*PI_PX}
function piY(f,n){return f.base-Math.min(n,EVENT_MAX)/EVENT_MAX*PI_EVENT_PX}
function dnaX(f,c){return f.x0+c/DNA_MAX*DNA_PX}
function dnaY(f,n){return f.base-Math.min(n,EVENT_MAX)/EVENT_MAX*DNA_EVENT_PX}
function dotX(f,c){return f.x0+c/DOT_CHANNELS*(f.x1-f.x0)}
function dotY(f,c){return f.base-c/DOT_CHANNELS*(f.base-f.top)}
function areaPath(pairs,fx,fy,f){
  let d="M"+fx(f,pairs[0]).toFixed(1)+" "+f.base;
  for(let i=0;i<pairs.length;i+=2)d+="L"+fx(f,pairs[i]).toFixed(1)+" "+fy(f,pairs[i+1]).toFixed(1);
  return d+"L"+fx(f,pairs[pairs.length-2]).toFixed(1)+" "+f.base+"Z";
}

// ---------- propidium iodide histograms
piFrames.forEach(f=>{
  const g=mk(root,"g",{});
  
  
  const area=mk(g,"path",{d:areaPath(f.data,piX,piY,f),fill:"#363636",stroke:"#050505","stroke-width":3.8,"stroke-linejoin":"round"});
  
  
  const yAxis=mk(g,"line",{x1:f.x0,x2:f.x0,y1:f.top,y2:f.base+6,stroke:"#000","stroke-width":5});
  
  
  const xAxis=mk(g,"line",{x1:f.x0,x2:f.x1,y1:f.base,y2:f.base,stroke:"#000","stroke-width":4});
  
  
  [32,64,96,128].forEach(v=>{
    const t=mk(g,"line",{x1:f.x0-6,x2:f.x0,y1:piY(f,v)+3,y2:piY(f,v),stroke:"#000","stroke-width":1.5});
    
    
  });
  const dec=(f.x1-f.x0)/4;
  decadeLabels.forEach((lab,i)=>{
    const tx=f.x0+i*dec;
    const major=mk(g,"line",{x1:tx,x2:tx,y1:f.base,y2:f.base+9,stroke:"#000","stroke-width":2});
    
    
    if(i<4)for(let k=2;k<10;k++){
      const mx=tx+Math.log10(k)*dec;
      const minor=mk(g,"line",{x1:mx,x2:mx,y1:f.base,y2:f.base+6,stroke:"#000","stroke-width":2});
      
      
    }
    const base=mk(g,"text",{x:tx-20,y:830,"font-size":46,stroke:"#000","stroke-width":1.6,textLength:40,lengthAdjust:"spacingAndGlyphs"},"10");
    
    
    const sup=mk(g,"text",{x:tx+24,y:815,"font-size":28,stroke:"#000","stroke-width":1.1,textLength:18,lengthAdjust:"spacingAndGlyphs"},lab);
    
    
  });
  const top=mk(g,"text",{transform:"translate("+(f.x0-22)+","+f.mid+") rotate(-90)","text-anchor":"middle","font-size":50,stroke:"#000","stroke-width":1.3,textLength:68,lengthAdjust:"spacingAndGlyphs"},countLabels[1]);
  
  
  const zero=mk(g,"text",{transform:"translate("+(f.x0-22)+","+(f.base-1)+") rotate(-90)","text-anchor":"middle","font-size":50,stroke:"#000","stroke-width":1.3,textLength:28,lengthAdjust:"spacingAndGlyphs"},countLabels[0]);
  
  
});

// ---------- DNA content histograms
dnaFrames.forEach(f=>{
  const g=mk(root,"g",{});
  
  
  const area=mk(g,"path",{d:areaPath(f.data,dnaX,dnaY,f),fill:"#383838",stroke:"#111","stroke-width":1.5,"stroke-linejoin":"round"});
  
  
  const yAxis=mk(g,"line",{x1:f.x0,x2:f.x0,y1:f.top,y2:f.base+4,stroke:"#000","stroke-width":3});
  
  
  const xAxis=mk(g,"line",{x1:f.x0,x2:f.x1,y1:f.base,y2:f.base,stroke:"#111","stroke-width":3.2});
  
  
  for(let i=0;i<=25;i++){
    const tx=f.x0+i*(f.x1-f.x0-8)/25;
    const t=mk(g,"line",{x1:tx,x2:tx,y1:f.base,y2:f.base+6,stroke:"#000","stroke-width":2});
    
    
  }
  [32,64,96,128].forEach(v=>{
    const t=mk(g,"line",{x1:f.x0-6,x2:f.x0,y1:dnaY(f,v)+3,y2:dnaY(f,v),stroke:"#000","stroke-width":1.5});
    
    
  });
  const xz=mk(g,"text",{x:f.label,y:f.by,"text-anchor":"middle","font-size":42,stroke:"#000","stroke-width":1},dnaLabels[0]);
  
  
  const xm=mk(g,"text",{x:f.maxL,y:f.by,"font-size":42,stroke:"#000","stroke-width":1,textLength:f.maxW,lengthAdjust:"spacingAndGlyphs"},dnaLabels[1]);
  
  
  const top=mk(g,"text",{transform:"translate("+f.right+","+f.mid+") rotate(-90)","text-anchor":"middle","font-size":46,stroke:"#000","stroke-width":1,textLength:56,lengthAdjust:"spacingAndGlyphs"},countLabels[1]);
  
  
  const zero=mk(g,"text",{transform:"translate("+f.right+","+(f.base-1)+") rotate(-90)","text-anchor":"middle","font-size":46,stroke:"#000","stroke-width":1,textLength:24,lengthAdjust:"spacingAndGlyphs"},countLabels[0]);
  
  
});

// ---------- dot plots
dotFrames.forEach(f=>{
  const g=mk(root,"g",{});
  
  
  const binW=(f.x1-f.x0)/64,binH=(f.base-f.top)/64;
  f.density.forEach(rowSpec=>{
    const row=rowSpec[0],start=rowSpec[1],levels=rowSpec[2];
    for(let i=0;i<levels.length;i++){
      const lv=levels[i];
      if(lv===".")continue;
      const c=mk(g,"rect",{x:dotX(f,(start+i)*2).toFixed(1),y:dotY(f,(row+1)*2).toFixed(1),width:(binW+.4).toFixed(1),height:(binH+.4).toFixed(1),fill:levelFill[lv]});
      
      
    }
  });
  const dw=(f.x1-f.x0)/DOT_CHANNELS+1.4,dh=(f.base-f.top)/DOT_CHANNELS+1.4;
  for(let i=0;i<f.pale.length;i+=2){
    const p=mk(g,"rect",{x:dotX(f,f.pale[i]).toFixed(1),y:dotY(f,f.pale[i+1]+1).toFixed(1),width:dw.toFixed(1),height:dh.toFixed(1),fill:"#a6a6a6"});
    
    
  }
  for(let i=0;i<f.dark.length;i+=2){
    const p=mk(g,"rect",{x:dotX(f,f.dark[i]).toFixed(1),y:dotY(f,f.dark[i+1]+1).toFixed(1),width:dw.toFixed(1),height:dh.toFixed(1),fill:"#0e0e0e"});
    
    
  }
  const frame=mk(g,"rect",{x:f.x0,y:f.top,width:f.x1-f.x0,height:f.base-f.top,fill:"none",stroke:"#000","stroke-width":3.4});
  
  
  const decX=(f.x1-f.x0)/4,decY=(f.base-f.top)/4;
  decadeLabels.forEach((lab,i)=>{
    const tx=f.x0+i*decX,ty=f.base-i*decY;
    const mx=mk(g,"line",{x1:tx,x2:tx,y1:f.base,y2:f.base+9,stroke:"#000","stroke-width":2.8});
    
    
    const my=mk(g,"line",{x1:f.x0-9,x2:f.x0,y1:ty,y2:ty,stroke:"#000","stroke-width":2.8});
    
    
    if(i<4)for(let k=2;k<10;k++){
      const ox=tx+Math.log10(k)*decX,oy=ty-Math.log10(k)*decY;
      const nx=mk(g,"line",{x1:ox,x2:ox,y1:f.base,y2:f.base+6,stroke:"#000","stroke-width":2.2});
      
      
      const ny=mk(g,"line",{x1:f.x0-6,x2:f.x0,y1:oy,y2:oy,stroke:"#000","stroke-width":2.2});
      
      
    }
    const bx=mk(g,"text",{x:tx-14,y:2293,"font-size":34,stroke:"#000","stroke-width":1.3,textLength:31,lengthAdjust:"spacingAndGlyphs"},"10");
    
    
    const sx=mk(g,"text",{x:tx+17,y:2279,"font-size":18,stroke:"#000","stroke-width":.4,textLength:12,lengthAdjust:"spacingAndGlyphs"},lab);
    
    
    const by=mk(g,"text",{transform:"translate("+(f.x0-12)+","+(ty+15)+") rotate(-90)","font-size":44,stroke:"#000","stroke-width":1,textLength:27,lengthAdjust:"spacingAndGlyphs"},"10");
    
    
    const sy=mk(g,"text",{transform:"translate("+(f.x0-28)+","+(ty-19)+") rotate(-90)","font-size":24,stroke:"#000","stroke-width":.3,textLength:13,lengthAdjust:"spacingAndGlyphs"},lab);
    
    
  });
});
</script>
</body>
</html>
